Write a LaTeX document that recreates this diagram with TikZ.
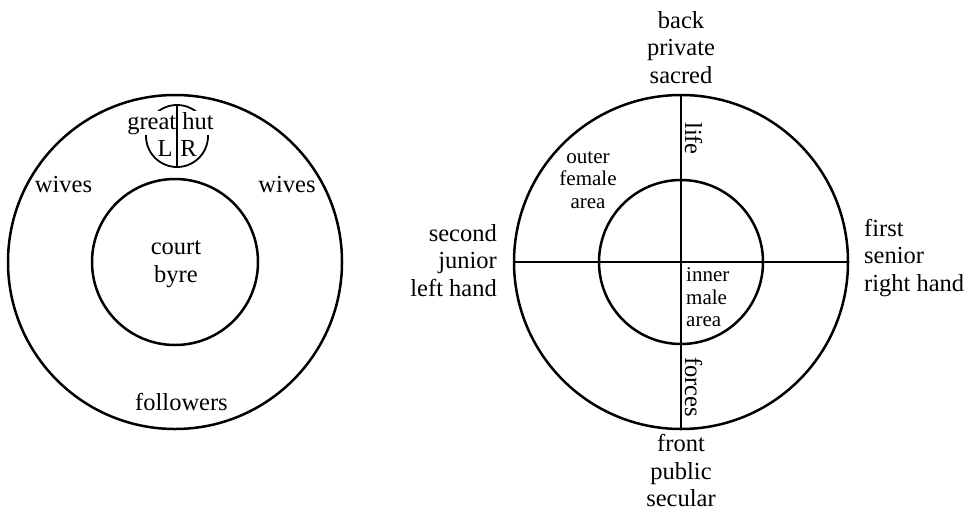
\documentclass[tikz,border=0pt]{standalone}
\usepackage{fontspec}
\setmainfont{Liberation Serif}
\begin{document}
\begin{tikzpicture}[x=1pt,y=-1pt,
  ring/.style={circle, draw, line width=2.5pt, inner sep=0pt, outer sep=0pt},
  axis/.style={line width=1.2pt},
  big/.style={font=\fontsize{24.5}{27.5}\selectfont, inner sep=0pt},
  small/.style={font=\fontsize{21}{22.5}\selectfont, inner sep=0pt},
]
\useasboundingbox (0,0) rectangle (973,512);
% ---- left diagram ----
\node[ring, minimum size=334pt] (Lout) at (175,262) {};
\node[ring, minimum size=166pt] (Lin) at (175,262) {};
\node[ring, line width=1.8pt, minimum size=62pt] (hut) at (177,136) {};
\node[big, fill=white, inner sep=1pt, anchor=base] (hutlbl) at (170.5,129) {great hut};
\draw[axis] (hut.north) -- (hut.south);
\node[big, anchor=base] (L) at (165,156) {L};
\node[big, anchor=base] (R) at (188.5,156) {R};
\node[big, anchor=base] (wivesL) at (63.5,192) {wives};
\node[big, anchor=base] (wivesR) at (287,192) {wives};
\node[big, align=center, anchor=base] (court) at (176,282) {court\\byre};
\node[big, anchor=base] (foll) at (181.5,410) {followers};
% ---- right diagram ----
\node[ring, minimum size=334pt] (Rout) at (681,262) {};
\node[ring, minimum size=164pt] (Rin) at (681,262) {};
\draw[axis] (Rout.north) -- (Rout.south);
\draw[axis] (Rout.west) -- (Rout.east);
\node[big, align=center, anchor=base] (back) at (681,83.3) {back\\private\\sacred};
\node[big, align=center, anchor=base] (front) at (681,506.7) {front\\public\\secular};
\node[big, align=right, anchor=base east] (second) at (497,296) {second\\junior\\left hand};
\node[big, align=left, anchor=base west] (first) at (864,291) {first\\senior\\right hand};
\node[small, align=center, anchor=base] (outer) at (588,208) {outer\\female\\area};
\node[small, align=left, anchor=base west] (inner) at (686,326.7) {inner\\male\\area};
\node[big, rotate=-90, anchor=base west] (life) at (685,122) {life};
\node[big, rotate=-90, anchor=base west] (forces) at (685,357) {forces};
\end{tikzpicture}
\end{document}
